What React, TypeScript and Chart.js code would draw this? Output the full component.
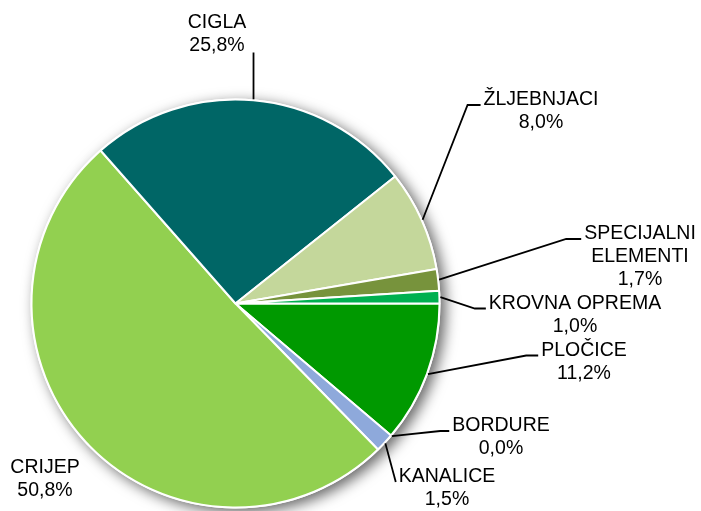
import React, { useEffect, useRef } from "react";
import { Chart, registerables } from "chart.js";

Chart.register(...registerables);

// ---- data ----
const categories = [
  "PLOČICE",
  "BORDURE",
  "KANALICE",
  "CRIJEP",
  "CIGLA",
  "ŽLJEBNJACI",
  "SPECIJALNI ELEMENTI",
  "KROVNA OPREMA",
];
const shares = [11.2, 0.0, 1.5, 50.8, 25.8, 8.0, 1.7, 1.0];
const labelLines = [
  ["PLOČICE"],
  ["BORDURE"],
  ["KANALICE"],
  ["CRIJEP"],
  ["CIGLA"],
  ["ŽLJEBNJACI"],
  ["SPECIJALNI", "ELEMENTI"],
  ["KROVNA OPREMA"],
];

// ---- styles / layout ----
const sliceColors = [
  "#009900",
  "#4F81BD",
  "#8EA9DB",
  "#92D050",
  "#006666",
  "#C4D79B",
  "#77933C",
  "#00B050",
];
// label block centre, relative to the pie centre; leader style
const labelLayout = [
  { dx: 348.5, dy: 58.5, leader: "left", elbow: 12 },
  { dx: 265.5, dy: 134, leader: "left", elbow: 9 },
  { dx: 211.5, dy: 185, leader: "left", elbow: 0 },
  { dx: -190.5, dy: 176, leader: "none", elbow: 0 },
  { dx: -18.5, dy: -269.5, leader: "bottom", elbow: 0 },
  { dx: 305.5, dy: -192, leader: "left", elbow: 13 },
  { dx: 404.5, dy: -46.5, leader: "left", elbow: 15 },
  { dx: 339.5, dy: 11.5, leader: "left", elbow: 11 },
];
const FONT = '19.5px "Liberation Sans", Arial, sans-serif';
const LINE_H = 23;

const fmtPct = (v: number) => v.toFixed(1).replace(".", ",") + "%";

const shadowPlugin = {
  id: "pieShadow",
  beforeDatasetsDraw(chart: any) {
    const meta = chart.getDatasetMeta(0);
    const arc = meta.data[0];
    if (!arc) return;
    const { x, y, outerRadius } = arc.getProps(["x", "y", "outerRadius"], true);
    const ctx = chart.ctx;
    ctx.save();
    ctx.shadowColor = "rgba(0,0,0,0.6)";
    ctx.shadowBlur = 14;
    ctx.shadowOffsetX = 5;
    ctx.shadowOffsetY = 4;
    ctx.fillStyle = "#ffffff";
    ctx.beginPath();
    ctx.arc(x, y, outerRadius + 1, 0, Math.PI * 2);
    ctx.fill();
    ctx.restore();
  },
};

const labelPlugin = {
  id: "pieLabels",
  afterDatasetsDraw(chart: any) {
    const ctx = chart.ctx;
    const meta = chart.getDatasetMeta(0);
    ctx.save();
    ctx.font = FONT;
    ctx.fillStyle = "#000000";
    ctx.strokeStyle = "#000000";
    ctx.lineWidth = 1.8;
    ctx.textAlign = "center";
    ctx.textBaseline = "middle";
    meta.data.forEach((arc: any, i: number) => {
      const { x, y, startAngle, endAngle, outerRadius } = arc.getProps(
        ["x", "y", "startAngle", "endAngle", "outerRadius"],
        true
      );
      const lay = labelLayout[i];
      const lines = [...labelLines[i], fmtPct(shares[i])];
      const n = lines.length;
      const cx = x + lay.dx;
      const cy = y + lay.dy;
      const y0 = cy - ((n - 1) * LINE_H) / 2;
      lines.forEach((t, j) => ctx.fillText(t, cx, y0 + j * LINE_H));

      const mid = (startAngle + endAngle) / 2;
      const ax = x + Math.cos(mid) * (outerRadius + 1);
      const ay = y + Math.sin(mid) * (outerRadius + 1);
      if (lay.leader === "left") {
        const w0 = ctx.measureText(lines[0]).width;
        const ex = cx - w0 / 2 - 3;
        const ey = y0 + 5;
        ctx.beginPath();
        ctx.moveTo(ax, ay);
        ctx.lineTo(ex - lay.elbow, ey);
        ctx.lineTo(ex, ey);
        ctx.stroke();
      } else if (lay.leader === "bottom") {
        const ey = y0 + (n - 1) * LINE_H + 7;
        ctx.beginPath();
        ctx.moveTo(ax, ay);
        ctx.lineTo(ax, ey);
        ctx.stroke();
      }
    });
    ctx.restore();
  },
};

export default function App() {
  const ref = useRef<HTMLCanvasElement | null>(null);
  useEffect(() => {
    if (!ref.current) return;
    const chart = new Chart(ref.current, {
      type: "pie",
      data: {
        labels: categories,
        datasets: [
          {
            data: shares,
            backgroundColor: sliceColors,
            borderColor: "#ffffff",
            borderWidth: 2,
            hoverBorderWidth: 2,
          },
        ],
      },
      options: {
        responsive: false,
        animation: false,
        devicePixelRatio: 1,
        rotation: 90,
        layout: { padding: { left: 30.5, top: 98.5, right: 260.5, bottom: 2.5 } },
        plugins: {
          legend: { display: false },
          tooltip: { enabled: false },
        },
        events: [],
      },
      plugins: [shadowPlugin, labelPlugin],
    });
    return () => chart.destroy();
  }, []);
  return (
    <div style={{ position: "fixed", left: 0, top: 0, width: 701, height: 511, background: "#ffffff" }}>
      <canvas ref={ref} width={701} height={511} style={{ width: 701, height: 511, display: "block" }} />
    </div>
  );
}
